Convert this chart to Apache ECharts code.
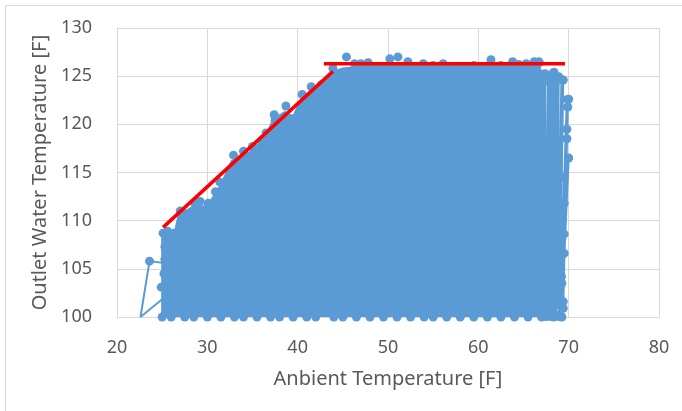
<!DOCTYPE html>
<html>
<head>
<meta charset="utf-8">
<script src="https://cdn.jsdelivr.net/npm/echarts@6/dist/echarts.min.js"></script>
<style>
  html, body { margin: 0; padding: 0; background: #fff; }
  #chart { width: 682px; height: 411px; }
</style>
</head>
<body>
<div id="chart"></div>
<script>
// x tick values and y tick values
const xTicks = [20, 30, 40, 50, 60, 70, 80];
const yTicks = [100, 105, 110, 115, 120, 125, 130];

// dense body of the scatter-line series (upper envelope, filled down to 100)
const massOutline = [
  [25, 100], [25, 108.4], [26.3, 108.4], [26.8, 110.5], [28.5, 111.5], [30, 111.5],
  [30.8, 112.7], [31.5, 113.7], [32.7, 116.2], [34, 116.7], [35, 117.3], [36.4, 118.7],
  [37.3, 120.5], [38.6, 121.3], [39.3, 120.4], [40.4, 122.6], [41.5, 123.5], [42.6, 123.8],
  [43.8, 125.4], [45, 125.8], [47, 126.0], [50, 126.2], [53, 126.1], [56, 126.1],
  [60, 126.2], [64, 126.2], [66.5, 126.2], [67.3, 125], [67.4, 100]
];

// ragged right edge, consecutive readings joined by lines
const edgeTrace = [
  [66.8, 126.4], [67.2, 100], [67.4, 125.3], [67.5, 100.5], [67.7, 125.0], [67.6, 100],
  [67.9, 124.3], [67.8, 100.8], [68.1, 125.2], [67.9, 100.2], [68.3, 125.4], [68.1, 100],
  [68.5, 124.8], [68.3, 100.6], [68.7, 124.9], [68.5, 100], [68.9, 125.0], [68.7, 101.2],
  [69.2, 124.6], [68.9, 100.2], [69.4, 124.6], [69.0, 100], [69.8, 122.6], [69.3, 103.5],
  [69.9, 121.8], [69.4, 100.9], [69.8, 119.5], [69.2, 106.6], [69.8, 118.5], [69.3, 101.6],
  [70.0, 116.5], [69.2, 104.2], [69.5, 114.5], [69.3, 100], [69.5, 111.8], [69.3, 108.6],
  [69.2, 100]
];

// low-temperature readings at the left
const outlierTrace = [[25.2, 102], [22.6, 100], [23.6, 105.8], [25.2, 105.6]];

// visible markers on the outer boundary
const boundaryDots = [
  [25.1, 108.7], [25.6, 108.9], [26.3, 108.7], [27.0, 111.0], [27.6, 110.7], [28.6, 111.8],
  [29.2, 112.0], [30.1, 111.8], [30.9, 113.0], [31.4, 114.0], [32.2, 114.2], [32.9, 116.8],
  [34.0, 117.2], [35.0, 117.7], [36.0, 118.3], [36.5, 119.1], [37.4, 121.0], [37.5, 120.4],
  [38.7, 121.9], [39.2, 120.6], [40.5, 123.1], [41.5, 123.9], [42.6, 124.1], [43.9, 125.8],
  [45.4, 127.0], [46.3, 126.3], [47.0, 126.3], [47.8, 126.4], [48.9, 125.9], [50.2, 126.8],
  [51.1, 127.0], [52.2, 126.5], [53.9, 126.3], [55.0, 126.1], [56.1, 126.3], [58.0, 126.0],
  [59.5, 126.1], [61.4, 126.7], [62.5, 126.1], [63.8, 126.5], [64.5, 126.2], [65.3, 126.3],
  [66.2, 126.5], [66.7, 126.5], [67.0, 125.2], [68.4, 125.4], [69.0, 124.8], [69.4, 124.6],
  [70.0, 122.6], [69.9, 121.8], [69.8, 119.5], [69.8, 118.5], [70.0, 116.5], [69.5, 114.5],
  [69.5, 111.8], [69.5, 108.6], [69.5, 106.6], [69.2, 104.2], [69.4, 101.6], [69.4, 100.9],
  [23.6, 105.8], [24.9, 103.1], [25.2, 104.5], [25.3, 106.0], [25.3, 107.3], [26.0, 106.3]
];

const bottomDots = [
  [25, 100], [26, 100], [27.5, 100], [28.5, 100], [30, 100], [31.5, 100], [33, 100],
  [34, 100], [35.5, 100], [37, 100], [38, 100], [39.5, 100], [41, 100], [42, 100],
  [44, 100], [45, 100], [46.5, 100], [48, 100], [49.5, 100], [51, 100], [52.5, 100],
  [54, 100], [55, 100], [56.5, 100], [58, 100], [59.5, 100], [61, 100], [62.5, 100],
  [64, 100], [65.5, 100], [67, 100], [68.3, 100], [69.2, 100]
];

// hand-drawn red limit lines
const trendRise = [[25.1, 109.3], [43.9, 125.5]];
const trendFlat = [[42.9, 126.3], [69.6, 126.3]];

const blue = '#5b9bd5';
const textColor = '#595959';
const font = 'Noto Sans';

const chart = echarts.init(document.getElementById('chart'));
chart.setOption({
  animation: false,
  graphic: [{
    type: 'rect',
    shape: { x: 5.5, y: 5.5, width: 700, height: 420 },
    style: { fill: 'none', stroke: '#d9d9d9', lineWidth: 1 },
    silent: true
  }],
  grid: { left: 117, right: 23, top: 28, bottom: 94 },
  xAxis: {
    type: 'value', min: xTicks[0], max: xTicks[xTicks.length - 1], interval: 10,
    name: 'Anbient Temperature [F]', nameLocation: 'middle', nameGap: 52,
    nameTextStyle: { color: textColor, fontSize: 20, fontFamily: font },
    axisLine: { lineStyle: { color: '#d9d9d9' } },
    axisTick: { show: false },
    axisLabel: { color: textColor, fontSize: 18, fontFamily: font, margin: 22 },
    splitLine: { lineStyle: { color: '#d9d9d9' } }
  },
  yAxis: {
    type: 'value', min: yTicks[0], max: yTicks[yTicks.length - 1], interval: 5,
    name: 'Outlet Water Temperature [F]', nameLocation: 'middle', nameGap: 67,
    nameTextStyle: { color: textColor, fontSize: 20, fontFamily: font },
    axisLine: { show: true, lineStyle: { color: '#d9d9d9' } },
    axisTick: { show: false },
    axisLabel: { color: textColor, fontSize: 18, fontFamily: font, margin: 25 },
    splitLine: { lineStyle: { color: '#d9d9d9' } }
  },
  series: [
    {
      type: 'line', data: massOutline, symbol: 'none',
      lineStyle: { color: blue, width: 2 },
      areaStyle: { color: blue, opacity: 1, origin: 'start' }
    },
    {
      type: 'line', data: edgeTrace, symbol: 'circle', symbolSize: 8, clip: false,
      itemStyle: { color: blue }, lineStyle: { color: blue, width: 2 }
    },
    {
      type: 'line', data: outlierTrace, symbol: 'none', clip: false,
      lineStyle: { color: blue, width: 2 }
    },
    {
      type: 'scatter', data: boundaryDots, symbolSize: 9, clip: false,
      itemStyle: { color: blue, opacity: 1 }
    },
    {
      type: 'scatter', data: bottomDots, symbolSize: 9, clip: false,
      itemStyle: { color: blue, opacity: 1 }
    },
    {
      type: 'line', data: trendRise, symbol: 'none', z: 5,
      lineStyle: { color: '#ff0000', width: 3.5 }
    },
    {
      type: 'line', data: trendFlat, symbol: 'none', z: 5,
      lineStyle: { color: '#ff0000', width: 3.5 }
    }
  ]
});
</script>
</body>
</html>
